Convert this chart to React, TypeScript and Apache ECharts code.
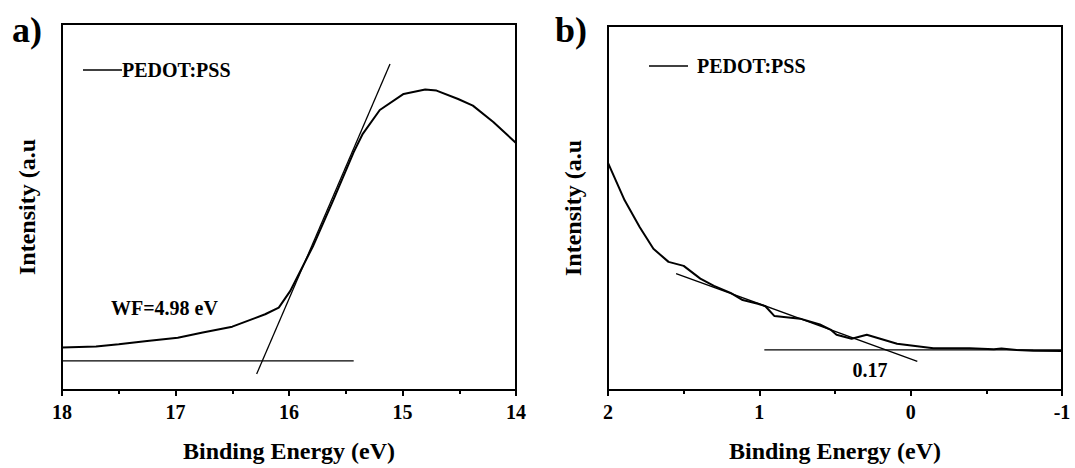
import React, { useEffect, useRef } from "react";
import * as echarts from "echarts";

// Panel a) – secondary-electron cutoff region
const LEFT_X = [18.0, 17.7, 17.5, 17.25, 16.98, 16.76, 16.5, 16.21, 16.09, 15.99, 15.79, 15.61, 15.43, 15.35, 15.2, 14.99, 14.8, 14.7, 14.51, 14.38, 14.2, 14.0];
const LEFT_Y = [11.6, 11.9, 12.5, 13.4, 14.3, 15.7, 17.3, 20.7, 22.5, 27.0, 39.2, 51.9, 65.0, 70.0, 76.5, 80.9, 82.1, 81.8, 79.5, 77.7, 73.2, 67.5];
const LEFT_TANGENT = [[16.285, 4.35], [15.11, 89.05]];
const LEFT_BASE = [[18.0, 7.96], [15.43, 7.96]];

// Panel b) – valence band edge region
const RIGHT_X = [2.0, 1.89, 1.79, 1.7, 1.6, 1.5, 1.39, 1.3, 1.19, 1.11, 1.01, 0.96, 0.9, 0.73, 0.6, 0.53, 0.49, 0.39, 0.29, 0.09, -0.15, -0.39, -0.55, -0.6, -0.7, -0.81, -1.0];
const RIGHT_Y = [62.4, 52.1, 44.7, 38.8, 35.2, 34.1, 30.6, 28.6, 26.7, 24.7, 23.7, 23.0, 20.3, 19.6, 18.0, 16.6, 15.2, 14.1, 15.2, 12.7, 11.5, 11.5, 11.2, 11.4, 11.0, 10.8, 10.7];
const RIGHT_TANGENT = [[1.55, 32.0], [-0.044, 7.86]];
const RIGHT_BASE = [[0.967, 11.04], [-1.0, 11.04]];

const SERIES_NAME = "PEDOT:PSS";
const X_TITLE = "Binding Energy (eV)";
const Y_TITLE = "Intensity (a.u";
const PANEL_LABELS = ["a)", "b)"];
const WF_LABEL = "WF=4.98 eV";
const VB_LABEL = "0.17";

const FONT = "Liberation Serif";

function zip(xs: number[], ys: number[]) {
  return xs.map((x, i) => [x, ys[i]]);
}

export default function App() {
  const ref = useRef<HTMLDivElement>(null);

  useEffect(() => {
    if (!ref.current) return;
    const chart = echarts.init(ref.current, undefined, { renderer: "svg" });

    const xAxisBase = (min: number, max: number, gridIndex: number) => ({
      type: "value",
      gridIndex,
      min,
      max,
      interval: 1,
      inverse: true,
      name: X_TITLE,
      nameLocation: "middle",
      nameGap: 49,
      nameTextStyle: { fontFamily: FONT, fontWeight: "bold", fontSize: 24, color: "#000" },
      axisLine: { show: true, onZero: false, lineStyle: { color: "#000", width: 2 } },
      axisTick: { show: true, inside: false, length: 6, lineStyle: { color: "#000", width: 2 } },
      minorTick: { show: true, splitNumber: 2, length: 4, lineStyle: { color: "#000", width: 2 } },
      splitLine: { show: false },
      axisLabel: { fontFamily: FONT, fontWeight: "bold", fontSize: 20, color: "#000", margin: 12 },
    });

    const yAxisBase = (gridIndex: number) => ({
      type: "value",
      gridIndex,
      min: 0,
      max: 100,
      name: Y_TITLE,
      nameLocation: "middle",
      nameGap: 23,
      nameTextStyle: { fontFamily: FONT, fontWeight: "bold", fontSize: 24, color: "#000" },
      axisLine: { show: true, onZero: false, lineStyle: { color: "#000", width: 2 } },
      axisTick: { show: false },
      axisLabel: { show: false },
      splitLine: { show: false },
    });

    const lineSeries = (data: number[][], idx: number, width: number, name?: string) => ({
      type: "line",
      name,
      xAxisIndex: idx,
      yAxisIndex: idx,
      data,
      symbol: "none",
      smooth: false,
      lineStyle: { color: "#000", width },
      itemStyle: { color: "#000" },
    });

    const textStyle = (size: number) => ({
      fill: "#000",
      fontFamily: FONT,
      fontWeight: "bold",
      fontSize: size,
    });

    chart.setOption({
      animation: false,
      backgroundColor: "#fff",
      textStyle: { fontFamily: FONT },
      grid: [
        { left: 62, top: 24, width: 454, height: 367, show: true, borderColor: "#000", borderWidth: 2, backgroundColor: "transparent" },
        { left: 608, top: 26, width: 454, height: 365, show: true, borderColor: "#000", borderWidth: 2, backgroundColor: "transparent" },
      ],
      xAxis: [xAxisBase(14, 18, 0), xAxisBase(-1, 2, 1)],
      yAxis: [yAxisBase(0), yAxisBase(1)],
      series: [
        lineSeries(zip(LEFT_X, LEFT_Y), 0, 2, SERIES_NAME),
        lineSeries(LEFT_TANGENT, 0, 1.3),
        lineSeries(LEFT_BASE, 0, 1.2),
        lineSeries(zip(RIGHT_X, RIGHT_Y), 1, 2, SERIES_NAME),
        lineSeries(RIGHT_TANGENT, 1, 1.3),
        lineSeries(RIGHT_BASE, 1, 1.2),
      ],
      graphic: [
        { type: "text", left: 12, top: 12, style: { ...textStyle(36), text: PANEL_LABELS[0] } },
        { type: "text", left: 555, top: 12, style: { ...textStyle(36), text: PANEL_LABELS[1] } },
        { type: "line", shape: { x1: 83, y1: 70, x2: 122, y2: 70 }, style: { stroke: "#000", lineWidth: 1.5 } },
        { type: "text", x: 122, y: 70, style: { ...textStyle(20), text: SERIES_NAME, verticalAlign: "middle", align: "left" } },
        { type: "line", shape: { x1: 649, y1: 66, x2: 688, y2: 66 }, style: { stroke: "#000", lineWidth: 1.5 } },
        { type: "text", x: 697, y: 66, style: { ...textStyle(20), text: SERIES_NAME, verticalAlign: "middle", align: "left" } },
        { type: "text", x: 111, y: 308, style: { ...textStyle(20), text: WF_LABEL, verticalAlign: "middle", align: "left" } },
        { type: "text", x: 870, y: 370, style: { ...textStyle(20), text: VB_LABEL, verticalAlign: "middle", align: "center" } },
      ],
    });

    return () => chart.dispose();
  }, []);

  return (
    <div
      ref={ref}
      style={{ position: "fixed", left: 0, top: 0, width: "1075px", height: "468px", background: "#fff" }}
    />
  );
}
